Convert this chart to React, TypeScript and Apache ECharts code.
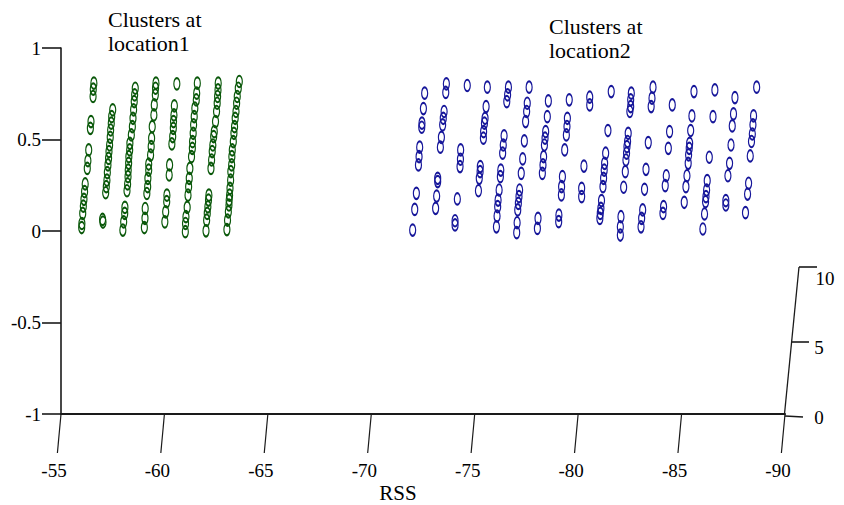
import React, { useEffect, useRef } from "react";
import * as echarts from "echarts";

const FONT = "Liberation Serif";
const xTicks = [-55, -60, -65, -70, -75, -80, -85, -90];
const depthTicks = ["0", "5", "10"];
const titleOne = "Clusters at\nlocation1";
const titleTwo = "Clusters at\nlocation2";
const xName = "RSS";

const location1: [number, number][] = [
  [-56.0,.019],[-56.01,.041],[-56.05,.096],[-56.08,.136],[-56.11,.173],[-56.14,.215],[-56.17,.257],[-56.27,.342],[-56.3,.384],[-56.34,.443],[-56.42,.561],[-56.45,.598],[-56.55,.735],[-56.56,.775],[-56.59,.808],
  [-57.01,.063],[-57.03,.049],[-57.16,.209],[-57.19,.242],[-57.22,.278],[-57.24,.319],[-57.27,.361],[-57.3,.397],[-57.32,.434],[-57.35,.47],[-57.38,.512],[-57.4,.552],[-57.43,.589],[-57.45,.625],[-57.5,.662],
  [-57.99,.005],[-58.03,.05],[-58.08,.096],[-58.09,.129],[-58.19,.22],[-58.22,.257],[-58.24,.297],[-58.25,.333],[-58.27,.37],[-58.28,.406],[-58.32,.443],[-58.33,.479],[-58.4,.525],[-58.45,.57],[-58.48,.616],[-58.51,.662],[-58.54,.707],[-58.56,.744],[-58.59,.78],
  [-59.03,.019],[-59.06,.069],[-59.07,.123],[-59.15,.205],[-59.19,.242],[-59.2,.288],[-59.24,.333],[-59.24,.366],[-59.33,.415],[-59.36,.461],[-59.38,.507],[-59.41,.57],[-59.49,.634],[-59.51,.689],[-59.56,.744],[-59.57,.78],[-59.59,.808],
  [-60.02,.05],[-60.06,.105],[-60.11,.16],[-60.12,.196],[-60.23,.306],[-60.25,.361],[-60.36,.476],[-60.4,.516],[-60.43,.561],[-60.44,.598],[-60.46,.634],[-60.48,.684],[-60.6,.804],
  [-61.01,-.004],[-61.02,.041],[-61.04,.078],[-61.1,.129],[-61.14,.196],[-61.17,.242],[-61.2,.288],[-61.23,.342],[-61.31,.406],[-61.35,.452],[-61.36,.488],[-61.39,.534],[-61.41,.58],[-61.44,.625],[-61.47,.671],[-61.54,.716],[-61.56,.753],[-61.59,.808],
  [-62.01,.001],[-62.04,.059],[-62.07,.096],[-62.1,.132],[-62.13,.169],[-62.15,.196],[-62.25,.342],[-62.28,.388],[-62.31,.434],[-62.34,.47],[-62.38,.516],[-62.41,.543],[-62.47,.598],[-62.52,.653],[-62.55,.698],[-62.57,.735],[-62.59,.771],[-62.6,.808],
  [-63.02,.008],[-63.05,.059],[-63.09,.105],[-63.12,.142],[-63.13,.169],[-63.15,.196],[-63.17,.233],[-63.2,.278],[-63.21,.324],[-63.25,.361],[-63.26,.406],[-63.28,.443],[-63.33,.488],[-63.36,.534],[-63.39,.57],[-63.42,.616],[-63.46,.653],[-63.49,.698],[-63.52,.735],[-63.57,.78],[-63.62,.817],
];

const location2: [number, number][] = [
  [-72.0,.005],[-72.1,.118],[-72.18,.206],[-72.28,.361],[-72.31,.406],[-72.34,.458],[-72.44,.567],[-72.45,.589],[-72.52,.669],[-72.58,.753],
  [-73.11,.124],[-73.16,.191],[-73.21,.27],[-73.21,.288],[-73.34,.458],[-73.39,.512],[-73.45,.58],[-73.48,.616],[-73.52,.653],[-73.6,.757],[-73.63,.804],
  [-74.05,.033],[-74.05,.056],[-74.16,.175],[-74.29,.352],[-74.31,.392],[-74.32,.443],[-74.64,.795],
  [-75.18,.22],[-75.22,.288],[-75.26,.324],[-75.27,.352],[-75.42,.507],[-75.43,.543],[-75.47,.589],[-75.5,.616],[-75.55,.68],[-75.61,.786],
  [-76.05,.023],[-76.08,.082],[-76.11,.133],[-76.13,.169],[-76.18,.224],[-76.24,.297],[-76.26,.333],[-76.35,.425],[-76.38,.47],[-76.42,.52],[-76.55,.707],[-76.59,.744],[-76.63,.786],
  [-77.03,-.009],[-77.05,.045],[-77.08,.115],[-77.11,.151],[-77.14,.188],[-77.17,.224],[-77.25,.315],[-77.32,.394],[-77.4,.492],[-77.46,.598],[-77.51,.653],[-77.54,.698],[-77.63,.786],
  [-78.03,.014],[-78.06,.069],[-78.27,.315],[-78.3,.361],[-78.33,.406],[-78.37,.47],[-78.4,.507],[-78.43,.543],[-78.51,.625],[-78.56,.711],
  [-79.06,.051],[-79.07,.087],[-79.19,.197],[-79.2,.242],[-79.24,.297],[-79.35,.443],[-79.43,.525],[-79.46,.571],[-79.48,.616],[-79.57,.717],
  [-80.17,.188],[-80.17,.233],[-80.28,.355],[-80.56,.689],[-80.56,.731],
  [-81.05,.069],[-81.07,.096],[-81.1,.124],[-81.13,.166],[-81.2,.242],[-81.23,.288],[-81.26,.333],[-81.28,.37],[-81.33,.425],[-81.44,.549],[-81.6,.762],
  [-82.04,-.022],[-82.04,.023],[-82.07,.078],[-82.2,.239],[-82.28,.324],[-82.31,.388],[-82.34,.425],[-82.36,.461],[-82.39,.489],[-82.42,.534],[-82.5,.653],[-82.54,.68],[-82.54,.717],[-82.57,.753],
  [-83.04,.023],[-83.07,.069],[-83.12,.115],[-83.21,.228],[-83.28,.337],[-83.39,.483],[-83.53,.68],[-83.57,.726],[-83.62,.786],
  [-84.1,.096],[-84.13,.133],[-84.21,.248],[-84.26,.302],[-84.36,.452],[-84.42,.543],[-84.55,.689],
  [-85.13,.157],[-85.21,.242],[-85.26,.302],[-85.32,.37],[-85.34,.416],[-85.37,.452],[-85.39,.479],[-85.44,.549],[-85.5,.629],[-85.6,.762],
  [-86.03,.011],[-86.11,.093],[-86.16,.16],[-86.18,.188],[-86.21,.224],[-86.24,.275],[-86.34,.403],[-86.52,.625],[-86.61,.771],
  [-87.14,.142],[-87.14,.166],[-87.24,.302],[-87.32,.37],[-87.39,.47],[-87.45,.574],[-87.51,.64],[-87.58,.729],
  [-88.09,.1],[-88.19,.202],[-88.24,.261],[-88.32,.41],[-88.38,.489],[-88.42,.53],[-88.45,.58],[-88.48,.629],[-88.63,.786],
];

const ELLIPSE = "path://M0 10C0 4.5 2.2 0 5 0S10 4.5 10 10 7.8 20 5 20 0 15.5 0 10Z";
const AXIS = "#1a1a1a";

function scatter(name: string, data: [number, number][], color: string) {
  return {
    name,
    type: "scatter",
    data,
    symbol: ELLIPSE,
    symbolSize: [6, 11.5],
    itemStyle: { color: "none", borderColor: color, borderWidth: 1.6, opacity: 1 },
    silent: true,
  };
}

export default function App() {
  const ref = useRef<HTMLDivElement>(null);
  useEffect(() => {
    const chart = echarts.init(ref.current!, undefined, { renderer: "svg" });
    const text = (t: string, x: number, y: number, size: number, align = "center", lineHeight = 24) => ({
      type: "text",
      x,
      y,
      silent: true,
      style: { text: t, x: 0, y: 0, fill: "#000", fontFamily: FONT, fontSize: size, align, verticalAlign: "middle", lineHeight },
    });
    const seg = (x1: number, y1: number, x2: number, y2: number, w = 1.3) => ({
      type: "line",
      silent: true,
      shape: { x1, y1, x2, y2 },
      style: { stroke: AXIS, lineWidth: w },
    });
    chart.setOption({
      animation: false,
      backgroundColor: "#fff",
      grid: { left: 61, right: 59, top: 48, bottom: 91, containLabel: false },
      xAxis: {
        type: "value",
        min: -90,
        max: -55,
        interval: 5,
        inverse: true,
        splitLine: { show: false },
        axisTick: { show: false },
        axisLine: { onZero: false, lineStyle: { color: AXIS, width: 2 } },
        axisLabel: {
          margin: 47,
          fontFamily: FONT,
          fontSize: 19,
          color: "#000",
          padding: [0, 14, 0, 0],
          showMinLabel: true,
          showMaxLabel: true,
          hideOverlap: false,
        },
      },
      yAxis: {
        type: "value",
        min: -1,
        max: 1,
        interval: 0.5,
        position: "left",
        splitLine: { show: false },
        axisTick: { show: true, length: 19, lineStyle: { color: AXIS, width: 1.6 } },
        axisLine: { show: true, onZero: false, lineStyle: { color: AXIS, width: 1.6 } },
        axisLabel: { margin: 20, fontFamily: FONT, fontSize: 19, color: "#000" },
      },
      series: [
        scatter("location1", location1, "#0a580a"),
        scatter("location2", location2, "#16169a"),
        {
          type: "custom",
          silent: true,
          clip: false,
          data: xTicks.map((v) => [v, -1]),
          renderItem: (_p: any, api: any) => {
            const [x, y] = api.coord([api.value(0), api.value(1)]);
            return {
              type: "line",
              shape: { x1: x, y1: y, x2: x - 3.6, y2: y + 39 },
              style: { stroke: AXIS, lineWidth: 1.2 },
            };
          },
        },
      ],
      graphic: [
        text(titleOne, 108, 31, 22, "left"),
        text(titleTwo, 549, 38, 22, "left"),
        text(xName, 398, 493, 21),
        seg(784.5, 414, 799, 267),
        seg(785, 416, 803, 417, 1.6),
        seg(792, 342, 809, 342, 1.6),
        seg(799, 267, 817, 267, 1.6),
        text(depthTicks[0], 819, 417, 19),
        text(depthTicks[1], 819, 347, 19),
        text(depthTicks[2], 825, 278, 19),
      ],
    });
    return () => chart.dispose();
  }, []);
  return <div ref={ref} style={{ position: "absolute", left: 0, top: 0, width: 844, height: 505, background: "#fff" }} />;
}
